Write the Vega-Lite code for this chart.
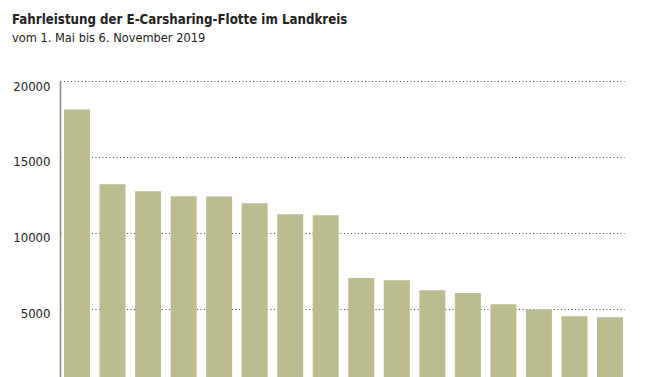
{
  "$schema": "https://vega.github.io/schema/vega-lite/v6.json",
  "width": 564,
  "height": 296,
  "autosize": {"type": "none"},
  "padding": {"left": 60, "top": 81, "right": 46, "bottom": 0},
  "background": "#ffffff",
  "title": {
    "text": "Fahrleistung der E-Carsharing-Flotte im Landkreis",
    "subtitle": "vom 1. Mai bis 6. November 2019",
    "anchor": "start",
    "frame": "group",
    "dx": -48,
    "offset": 34,
    "font": "DejaVu Sans Condensed, sans-serif",
    "fontSize": 13.2,
    "fontWeight": "bold",
    "color": "#222222",
    "subtitleFont": "DejaVu Sans Condensed, sans-serif",
    "subtitleFontSize": 12.7,
    "subtitleColor": "#222222",
    "subtitlePadding": 5
  },
  "data": {
    "values": [
      {"id": 1, "km": 18130},
      {"id": 2, "km": 13200},
      {"id": 3, "km": 12740},
      {"id": 4, "km": 12410},
      {"id": 5, "km": 12400},
      {"id": 6, "km": 11950},
      {"id": 7, "km": 11230},
      {"id": 8, "km": 11160},
      {"id": 9, "km": 7040},
      {"id": 10, "km": 6890},
      {"id": 11, "km": 6230},
      {"id": 12, "km": 6050},
      {"id": 13, "km": 5310},
      {"id": 14, "km": 4960},
      {"id": 15, "km": 4520},
      {"id": 16, "km": 4450}
    ]
  },
  "mark": {"type": "bar", "color": "#bbbd8f", "clip": true},
  "encoding": {
    "x": {
      "field": "id",
      "type": "ordinal",
      "sort": null,
      "axis": null,
      "scale": {"paddingInner": 0.268, "paddingOuter": 0.0703, "align": 0.8}
    },
    "y": {
      "field": "km",
      "type": "quantitative",
      "scale": {"domain": [526, 20000], "zero": false, "nice": false},
      "axis": {
        "title": null,
        "values": [5000, 10000, 15000, 20000],
        "format": "d",
        "ticks": false,
        "domain": true,
        "domainColor": "#888888",
        "domainWidth": 1.5,
        "grid": true,
        "gridColor": "#444444",
        "gridDash": [1, 2.5],
        "gridWidth": 1,
        "labelFont": "DejaVu Sans Condensed, sans-serif",
        "labelFontSize": 13,
        "labelColor": "#222222",
        "labelPadding": 10,
        "labelOffset": 5
      }
    }
  },
  "config": {"view": {"stroke": null}}
}
